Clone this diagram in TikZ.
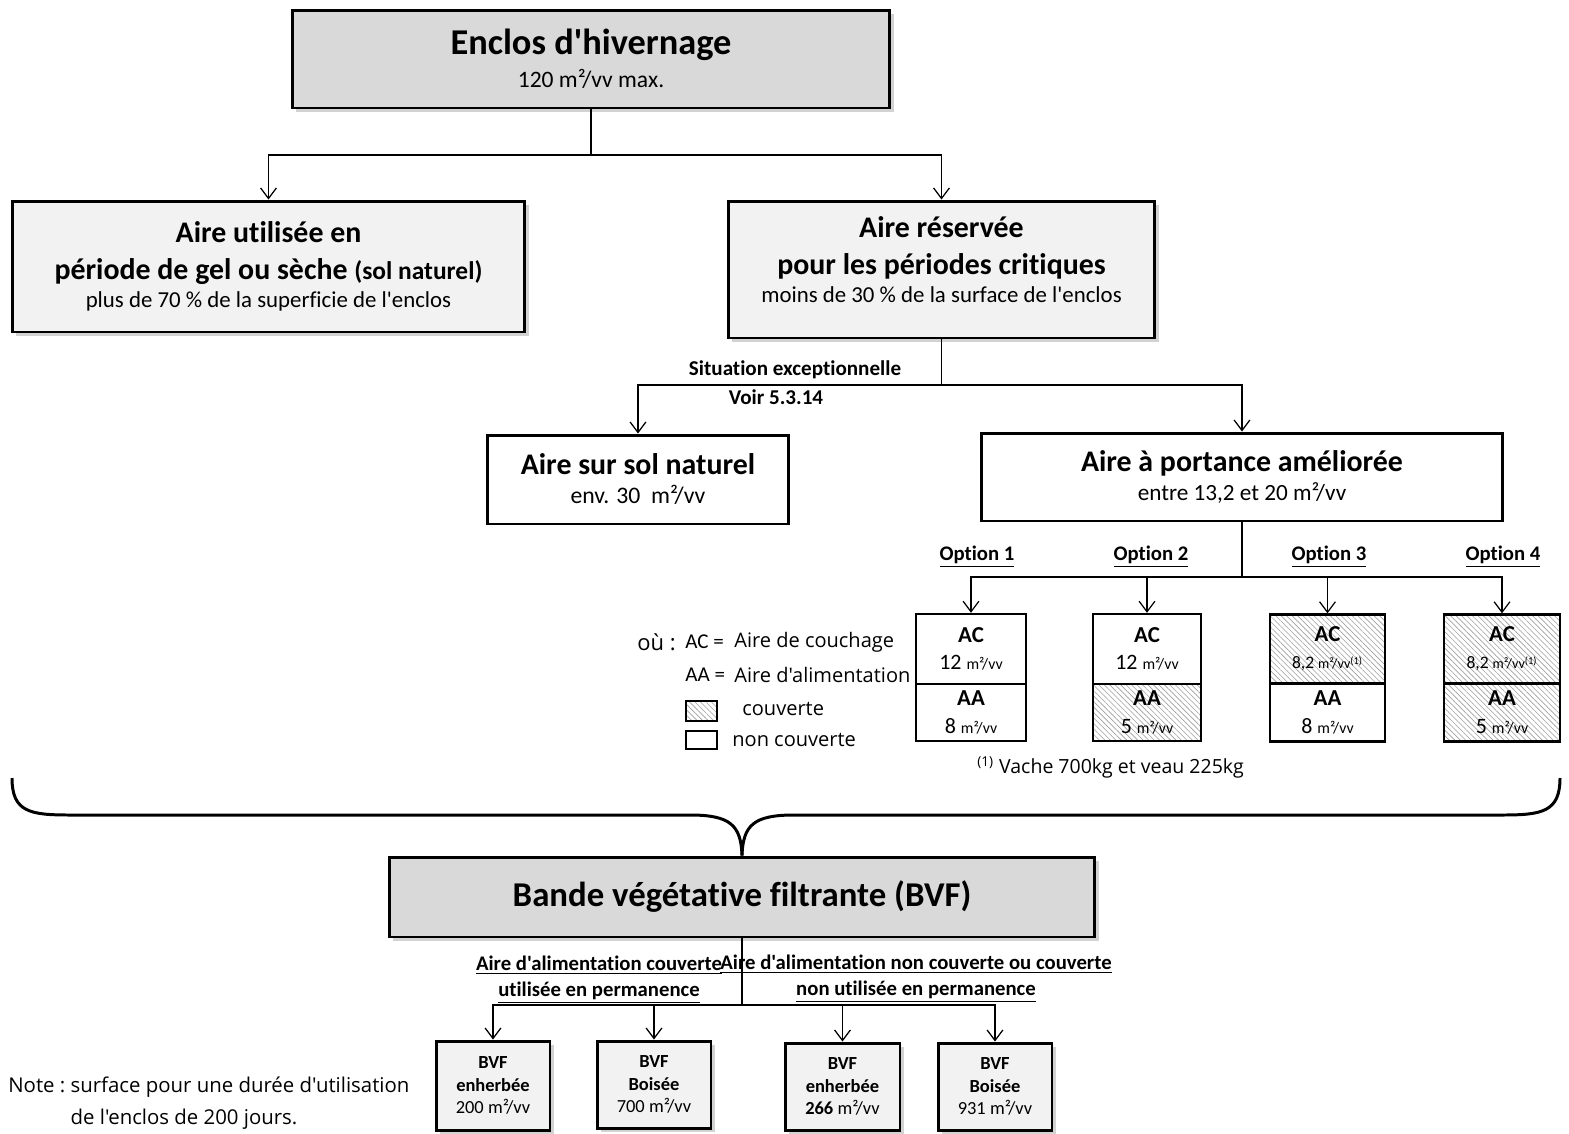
\documentclass[tikz,border=0pt]{standalone}
\usepackage{fontspec}
\setmainfont{Carlito}[Ligatures={TeXOff,CommonOff}]
\newfontfamily\notefont{Open Sans}
\usepackage{tikz}
\usetikzlibrary{arrows.meta,shadows,patterns.meta}

\definecolor{darkfill}{HTML}{D9D9D9}
\definecolor{lightfill}{HTML}{F2F2F2}
\newcommand{\sz}[2]{\fontsize{#1}{#2}\selectfont}

\begin{document}
\begin{tikzpicture}[x=0.02cm,y=-0.02cm,
    link/.style={line width=0.7pt,-{Straight Barb[length=6pt,width=9pt]}},
    shadowed/.style={drop shadow={shadow xshift=2.5pt,shadow yshift=-2.5pt,opacity=.35}},
    main box/.style={draw,line width=1.7pt,fill=darkfill,shadowed,align=center,inner sep=0pt},
    area box/.style={draw,line width=1.7pt,fill=lightfill,shadowed,align=center,inner sep=0pt},
    open box/.style={draw,line width=1.7pt,fill=white,align=center,inner sep=0pt},
    part box/.style={draw,line width=1.4pt,fill=white,align=center,inner sep=0pt,minimum width=2.2cm,font=\sz{13}{15.5}},
    covered/.style={pattern={Lines[angle=-45,distance=2.2pt,line width=0.35pt]},pattern color=gray!75},
    option label/.style={font=\bfseries\sz{11.8}{13},inner sep=0pt},
    legend text/.style={font=\notefont\sz{11.4}{13},anchor=west,inner sep=0pt}]
  \useasboundingbox (0,0) rectangle (1569,1133);
  \fill[white] (0,0) rectangle (1569,1133);

  %level 1%
  \node[main box,minimum width=11.96cm,minimum height=1.96cm,font=\sz{20.7}{18.7}] (enclos) at (591,59)
    {{\bfseries\sz{20.7}{23}Enclos d'hivernage}\\{\sz{13.4}{15}120 m²/vv max.}};

  %level 2%
  \node[area box,minimum width=10.26cm,minimum height=2.62cm,font=\sz{17}{21}] (gel) at (268.5,266.5)
    {{\bfseries\sz{17}{21}Aire utilisée en}\\
     {\bfseries\sz{17}{21}période de gel ou sèche {\sz{14.5}{21}(sol naturel)}}\\[-5pt]
     {\sz{13}{15}plus de 70 \% de la superficie de l'enclos}};
  \node[area box,minimum width=8.54cm,minimum height=2.74cm,font=\sz{17}{21}] (crit) at (941.5,269.5)
    {{\bfseries\sz{17}{21}Aire réservée}\\
     {\bfseries\sz{17}{21}pour les périodes critiques}\\[-5pt]
     {\sz{13}{15}moins de 30 \% de la surface de l'enclos}\rule[-11pt]{0pt}{0pt}};

  \coordinate (j1) at (591,155);
  \draw[line width=0.7pt] (enclos.south) -- (j1);
  \draw[link] (j1) -| (gel.north);
  \draw[link] (j1) -| (crit.north);

  %level 3%
  \node[open box,minimum width=6.04cm,minimum height=1.78cm,font=\sz{17}{16.5}] (sol) at (638,479.5)
    {{\bfseries\sz{17}{18}Aire sur sol naturel}\\{\sz{13.5}{15}env. 30~ m²/vv}};
  \node[open box,minimum width=10.44cm,minimum height=1.76cm,font=\sz{17}{16.5}] (portance) at (1242,477)
    {{\bfseries\sz{17}{18}Aire à portance améliorée}\\{\sz{13.2}{15}entre 13,2 et 20 m²/vv}};

  \coordinate (j2) at (941.5,385);
  \draw[line width=0.7pt] (crit.south) -- (j2);
  \draw[link] (j2) -| (sol.north);
  \draw[link] (j2) -| (portance.north);
  \node[option label,font=\bfseries\sz{12}{13}] (situation) at (795,370) {Situation exceptionnelle};
  \node[option label,font=\bfseries\sz{12}{13}] (voir) at (776,397) {Voir 5.3.14};

  %legend%
  \node[legend text,font=\notefont\sz{12.5}{14}] (ou) at (637,642) {où :};
  \node[legend text,font=\sz{12}{13}] (acEq) at (685,642) {AC =};
  \node[legend text] (acTxt) at (734,642) {Aire de couchage};
  \node[legend text,font=\sz{12}{13}] (aaEq) at (685,675) {AA =};
  \node[legend text] (aaTxt) at (734,675) {Aire d'alimentation};
  \node[draw,line width=1.2pt,covered,minimum width=0.62cm,minimum height=0.4cm,inner sep=0pt] (keyCov) at (701.5,711) {};
  \node[draw,line width=1.2pt,minimum width=0.62cm,minimum height=0.36cm,inner sep=0pt] (keyOpen) at (701.5,740) {};
  \node[legend text] (covTxt) at (742,709) {couverte};
  \node[legend text] (openTxt) at (732,740) {non couverte};

  %options%
  \node[option label] (opt1) at (977,557) {\underline{Option 1}};
  \node[option label] (opt2) at (1151,557) {\underline{Option 2}};
  \node[option label] (opt3) at (1329,557) {\underline{Option 3}};
  \node[option label] (opt4) at (1503,557) {\underline{Option 4}};

  \node[part box,minimum height=1.4cm] (ac1) at (971,649)
    {{\bfseries\sz{13}{14}AC}\\{\sz{12.5}{14}12 {\sz{9}{10}m²/vv}}};
  \node[part box,minimum height=1.14cm] (aa1) at (971,712.5)
    {{\bfseries\sz{13}{14}AA}\\{\sz{12.5}{14}8 {\sz{9}{10}m²/vv}}};
  \node[part box,minimum height=1.4cm,minimum width=2.16cm] (ac2) at (1147,649)
    {{\bfseries\sz{13}{14}AC}\\{\sz{12.5}{14}12 {\sz{9}{10}m²/vv}}};
  \node[part box,covered,minimum height=1.14cm,minimum width=2.16cm] (aa2) at (1147,712.5)
    {{\bfseries\sz{13}{14}AA}\\{\sz{12.5}{14}5 {\sz{9}{10}m²/vv}}};
  \node[part box,covered,minimum height=1.38cm,minimum width=2.3cm] (ac3) at (1327.5,649)
    {{\bfseries\sz{13}{14}AC}\\{\sz{10}{12}8,2 {\sz{8}{10}m²/vv\textsuperscript{(1)}}}};
  \node[part box,minimum height=1.16cm,minimum width=2.3cm] (aa3) at (1327.5,712.5)
    {{\bfseries\sz{13}{14}AA}\\{\sz{12.5}{14}8 {\sz{9}{10}m²/vv}}};
  \node[part box,covered,minimum height=1.38cm,minimum width=2.32cm] (ac4) at (1502,649)
    {{\bfseries\sz{13}{14}AC}\\{\sz{10}{12}8,2 {\sz{8}{10}m²/vv\textsuperscript{(1)}}}};
  \node[part box,covered,minimum height=1.16cm,minimum width=2.32cm] (aa4) at (1502,712.5)
    {{\bfseries\sz{13}{14}AA}\\{\sz{12.5}{14}5 {\sz{9}{10}m²/vv}}};

  \coordinate (j3) at (1242,577);
  \draw[line width=0.7pt] (portance.south) -- (j3);
  \draw[link] (j3) -| (ac1.north);
  \draw[link] (j3) -| (ac2.north);
  \draw[link] (j3) -| (ac3.north);
  \draw[link] (j3) -| (ac4.north);

  \node[legend text,font=\notefont\sz{11.1}{13}] (weight) at (977,767)
    {\textsuperscript{(1)} Vache 700kg et veau 225kg};

  %BVF%
  \node[main box,minimum width=14.12cm,minimum height=1.6cm] (bvf) at (742,897)
    {\bfseries\sz{19.8}{22}Bande végétative filtrante (BVF)};

  \coordinate (braceL) at (12,778);
  \coordinate (braceR) at (1560,778);
  \draw[line width=1.7pt] (braceL) .. controls (12,812) and (30,815) .. (70,815) -- (690,815)
    .. controls (730,815) and (741,825) .. (bvf.north);
  \draw[line width=1.7pt] (braceR) .. controls (1560,812) and (1542,815) .. (1502,815) -- (794,815)
    .. controls (754,815) and (743,825) .. (bvf.north);

  \node[area box,minimum width=2.28cm,minimum height=1.78cm,font=\sz{10.5}{12.8}] (bvf1) at (493,1085.5)
    {{\bfseries\sz{10.5}{12.8}BVF}\\{\bfseries\sz{10.5}{12.8}enherbée}\\{\sz{10.5}{12.8}200 m²/vv}};
  \node[area box,minimum width=2.28cm,minimum height=1.74cm,font=\sz{10.5}{12.8}] (bvf2) at (654,1084.5)
    {{\bfseries\sz{10.5}{12.8}BVF}\\{\bfseries\sz{10.5}{12.8}Boisée}\\{\sz{10.5}{12.8}700 m²/vv}};
  \node[area box,minimum width=2.3cm,minimum height=1.74cm,font=\sz{10.5}{12.8}] (bvf3) at (842.5,1086.5)
    {{\bfseries\sz{10.5}{12.8}BVF}\\{\bfseries\sz{10.5}{12.8}enherbée}\\{\sz{10.5}{12.8}\textbf{266} m²/vv}};
  \node[area box,minimum width=2.28cm,minimum height=1.74cm,font=\sz{10.5}{12.8}] (bvf4) at (995,1086.5)
    {{\bfseries\sz{10.5}{12.8}BVF}\\{\bfseries\sz{10.5}{12.8}Boisée}\\{\sz{10.5}{12.8}931 m²/vv}};

  \coordinate (j4) at (742,1005);
  \draw[line width=0.7pt] (bvf.south) -- (j4);
  \draw[link] (j4) -| (bvf1.north);
  \draw[link] (j4) -| (bvf2.north);
  \draw[link] (j4) -| (bvf3.north);
  \draw[link] (j4) -| (bvf4.north);

  \node[align=center,inner sep=0pt,font=\sz{11.8}{14.7}] (permLbl) at (599,980)
    {{\bfseries\sz{11.8}{14.7}\underline{Aire d'alimentation couverte}}\\
     {\bfseries\sz{11.8}{14.7}\underline{utilisée en permanence}}};
  \node[align=center,inner sep=0pt,font=\sz{11.8}{14.7}] (nonpermLbl) at (916,979)
    {{\bfseries\sz{11.8}{14.7}\underline{Aire d'alimentation non couverte ou couverte}}\\
     {\bfseries\sz{11.8}{14.7}\underline{non utilisée en permanence}}};

  %note%
  \node[anchor=west,inner sep=0pt,font=\notefont\sz{11.6}{13}] (note) at (8,1104)
    {\begin{tabular}{@{}l@{\ }l@{}}Note : & surface pour une durée d'utilisation\\[5pt]
      & de l'enclos de 200 jours.\end{tabular}};
\end{tikzpicture}
\end{document}
